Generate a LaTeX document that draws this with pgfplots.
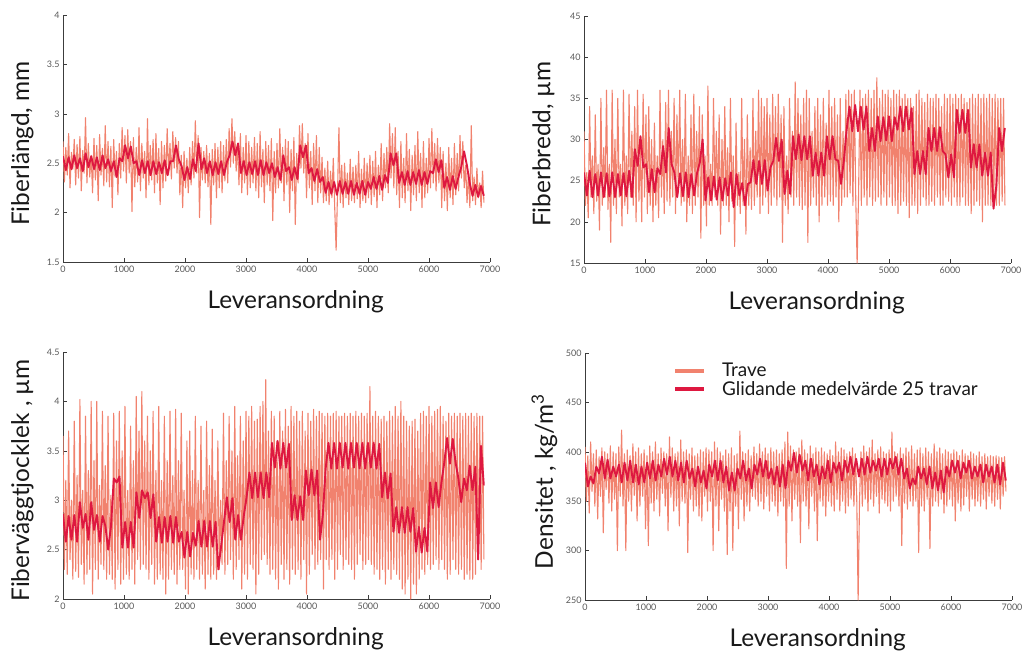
\documentclass[border=0pt]{standalone}
\usepackage{fontspec}
\setmainfont{Lato}
\usepackage{pgfplots}
\usepackage{pgfplotstable}
\pgfplotsset{compat=1.18}
\definecolor{trave}{RGB}{241,130,110}
\definecolor{avgc}{RGB}{222,24,64}
\definecolor{axgray}{RGB}{60,60,60}

% ---------- Fiberlangd ----------
\pgfplotstableread[row sep=\\]{
t\\
2.72\\ 2.31\\ 2.66\\ 2.38\\ 2.80\\ 2.25\\ 2.61\\ 2.44\\ 2.74\\ 2.28\\
2.69\\ 2.35\\ 2.77\\ 2.22\\ 2.63\\ 2.40\\ 2.96\\ 2.30\\ 2.70\\ 2.36\\
2.58\\ 2.20\\ 2.75\\ 2.33\\ 2.68\\ 2.12\\ 2.79\\ 2.38\\ 2.65\\ 2.27\\
2.88\\ 2.31\\ 2.72\\ 2.26\\ 2.67\\ 2.05\\ 2.74\\ 2.36\\ 2.62\\ 2.18\\
2.70\\ 2.35\\ 2.86\\ 2.42\\ 2.78\\ 2.30\\ 2.84\\ 2.40\\ 2.72\\ 2.01\\
2.76\\ 2.26\\ 2.66\\ 2.31\\ 2.86\\ 2.22\\ 2.70\\ 2.35\\ 2.62\\ 2.15\\
2.95\\ 2.28\\ 2.68\\ 2.33\\ 2.74\\ 2.20\\ 2.80\\ 2.30\\ 2.65\\ 2.08\\
2.72\\ 2.25\\ 2.68\\ 2.32\\ 2.85\\ 2.38\\ 2.70\\ 2.34\\ 2.82\\ 2.45\\
2.76\\ 2.40\\ 2.72\\ 2.18\\ 2.58\\ 2.05\\ 2.62\\ 2.25\\ 2.55\\ 2.20\\
2.66\\ 2.28\\ 2.72\\ 2.35\\ 2.93\\ 2.40\\ 2.78\\ 1.95\\ 2.66\\ 2.33\\
2.62\\ 2.30\\ 2.68\\ 2.26\\ 2.60\\ 1.88\\ 2.64\\ 2.28\\ 2.70\\ 2.15\\
2.66\\ 2.25\\ 2.72\\ 2.20\\ 2.68\\ 2.32\\ 2.74\\ 2.30\\ 2.85\\ 2.46\\
2.95\\ 2.50\\ 2.82\\ 2.42\\ 2.70\\ 2.28\\ 2.80\\ 2.20\\ 2.66\\ 2.30\\
2.78\\ 2.18\\ 2.72\\ 2.25\\ 2.66\\ 2.30\\ 2.76\\ 2.22\\ 2.70\\ 2.15\\
2.82\\ 2.26\\ 2.64\\ 2.10\\ 2.72\\ 2.28\\ 2.68\\ 2.22\\ 2.75\\ 1.92\\
2.62\\ 2.20\\ 2.70\\ 2.25\\ 2.85\\ 2.30\\ 2.66\\ 2.12\\ 2.74\\ 2.28\\
2.72\\ 2.00\\ 2.64\\ 2.22\\ 2.76\\ 1.88\\ 2.60\\ 2.30\\ 2.88\\ 2.45\\
2.90\\ 2.40\\ 2.70\\ 2.15\\ 2.80\\ 2.25\\ 2.62\\ 2.08\\ 2.70\\ 2.22\\
2.78\\ 2.10\\ 2.66\\ 2.20\\ 2.56\\ 2.10\\ 2.45\\ 2.12\\ 2.52\\ 2.08\\
2.42\\ 2.15\\ 2.55\\ 2.05\\ 1.62\\ 2.20\\ 2.86\\ 2.10\\ 2.48\\ 2.05\\
2.50\\ 2.15\\ 2.40\\ 2.08\\ 2.54\\ 2.12\\ 2.46\\ 2.10\\ 2.48\\ 2.14\\
2.62\\ 2.05\\ 2.44\\ 2.12\\ 2.55\\ 2.10\\ 2.50\\ 2.15\\ 2.58\\ 2.08\\
2.52\\ 2.16\\ 2.62\\ 2.05\\ 2.48\\ 2.18\\ 2.70\\ 2.12\\ 2.60\\ 2.25\\
2.66\\ 2.20\\ 2.90\\ 2.35\\ 2.80\\ 2.25\\ 2.86\\ 2.18\\ 2.62\\ 2.05\\
2.72\\ 2.15\\ 2.55\\ 2.10\\ 2.80\\ 2.22\\ 2.64\\ 2.02\\ 2.58\\ 2.18\\
2.68\\ 2.12\\ 2.82\\ 2.20\\ 2.60\\ 2.05\\ 2.72\\ 2.15\\ 2.55\\ 2.20\\
2.75\\ 2.25\\ 2.85\\ 2.30\\ 2.70\\ 2.22\\ 2.75\\ 2.30\\ 2.66\\ 2.05\\
2.62\\ 2.12\\ 2.50\\ 2.02\\ 2.66\\ 2.15\\ 2.55\\ 2.08\\ 2.70\\ 2.18\\
2.60\\ 2.22\\ 2.78\\ 2.35\\ 2.72\\ 2.25\\ 2.48\\ 2.10\\ 2.40\\ 2.05\\
2.88\\ 2.12\\ 2.36\\ 2.08\\ 2.45\\ 2.15\\ 2.30\\ 2.05\\ 2.42\\ 2.10\\
}\travA
\pgfplotstableread[row sep=\\]{
a\\
2.57\\ 2.43\\ 2.56\\ 2.44\\ 2.58\\ 2.45\\ 2.55\\ 2.42\\ 2.60\\ 2.46\\
2.57\\ 2.44\\ 2.56\\ 2.43\\ 2.58\\ 2.45\\ 2.54\\ 2.42\\ 2.52\\ 2.36\\
2.55\\ 2.52\\ 2.68\\ 2.55\\ 2.67\\ 2.50\\ 2.52\\ 2.38\\ 2.53\\ 2.40\\
2.52\\ 2.38\\ 2.52\\ 2.39\\ 2.51\\ 2.40\\ 2.53\\ 2.38\\ 2.52\\ 2.52\\
2.68\\ 2.54\\ 2.47\\ 2.33\\ 2.46\\ 2.34\\ 2.54\\ 2.42\\ 2.70\\ 2.44\\
2.55\\ 2.40\\ 2.52\\ 2.38\\ 2.51\\ 2.39\\ 2.52\\ 2.38\\ 2.51\\ 2.58\\
2.72\\ 2.58\\ 2.70\\ 2.40\\ 2.52\\ 2.38\\ 2.51\\ 2.39\\ 2.52\\ 2.38\\
2.53\\ 2.38\\ 2.51\\ 2.40\\ 2.50\\ 2.36\\ 2.46\\ 2.33\\ 2.58\\ 2.42\\
2.46\\ 2.33\\ 2.46\\ 2.34\\ 2.68\\ 2.56\\ 2.68\\ 2.40\\ 2.45\\ 2.32\\
2.44\\ 2.31\\ 2.36\\ 2.20\\ 2.31\\ 2.19\\ 2.31\\ 2.18\\ 2.32\\ 2.19\\
2.31\\ 2.19\\ 2.32\\ 2.18\\ 2.30\\ 2.19\\ 2.32\\ 2.18\\ 2.31\\ 2.24\\
2.36\\ 2.24\\ 2.37\\ 2.23\\ 2.38\\ 2.30\\ 2.60\\ 2.48\\ 2.60\\ 2.30\\
2.41\\ 2.28\\ 2.42\\ 2.28\\ 2.41\\ 2.29\\ 2.43\\ 2.28\\ 2.41\\ 2.29\\
2.42\\ 2.40\\ 2.54\\ 2.41\\ 2.53\\ 2.25\\ 2.36\\ 2.23\\ 2.37\\ 2.24\\
2.36\\ 2.46\\ 2.62\\ 2.48\\ 2.30\\ 2.17\\ 2.28\\ 2.16\\ 2.27\\ 2.17\\
}\avgA

% ---------- Fiberbredd ----------
\pgfplotstableread[row sep=\\]{
t\\
31\\ 22\\ 26\\ 20.5\\ 34\\ 23\\ 28\\ 21\\ 33\\ 22.5\\
27\\ 19\\ 35\\ 22\\ 29\\ 23\\ 36\\ 21.5\\ 27\\ 17.5\\
36\\ 22\\ 30\\ 21\\ 35\\ 23\\ 27\\ 19.5\\ 36\\ 22\\
28\\ 21\\ 35.5\\ 23\\ 31\\ 22\\ 34\\ 20\\ 36\\ 22.5\\
29\\ 20\\ 35.5\\ 23\\ 33\\ 21\\ 34\\ 22\\ 30\\ 20\\
32\\ 22\\ 28\\ 20.5\\ 36\\ 23\\ 30\\ 21\\ 34.5\\ 22.5\\
36\\ 22\\ 31\\ 23\\ 35\\ 21\\ 33\\ 23.5\\ 36\\ 22\\
30\\ 22.5\\ 35.5\\ 20\\ 28\\ 22\\ 33\\ 21\\ 35.5\\ 22\\
31\\ 23\\ 34\\ 18\\ 33\\ 22\\ 28\\ 19.5\\ 36.5\\ 22\\
27\\ 22\\ 35\\ 23\\ 31\\ 22\\ 33\\ 18.5\\ 30\\ 22\\
34\\ 22\\ 29\\ 20\\ 35\\ 22.5\\ 28\\ 17\\ 32\\ 22\\
26\\ 21\\ 35\\ 22\\ 30\\ 18.5\\ 33\\ 22\\ 29\\ 21.5\\
35\\ 22\\ 31\\ 23\\ 36\\ 21\\ 35\\ 22\\ 34\\ 23\\
35\\ 21\\ 33\\ 22\\ 35.5\\ 23\\ 34\\ 22\\ 35.5\\ 23\\
33\\ 17.5\\ 34\\ 22\\ 28\\ 21\\ 35\\ 23\\ 31\\ 22\\
37\\ 23\\ 35\\ 22\\ 33\\ 21.5\\ 35\\ 22\\ 36\\ 17.5\\
35\\ 22\\ 31\\ 23\\ 34\\ 22\\ 35\\ 20\\ 33\\ 22\\
35\\ 23\\ 32\\ 22\\ 36\\ 22.5\\ 34\\ 22\\ 35\\ 23\\
33\\ 20\\ 35\\ 22\\ 31\\ 23\\ 35.5\\ 23\\ 36\\ 23.5\\
35.5\\ 22\\ 36\\ 23\\ 15\\ 23\\ 36\\ 22\\ 35\\ 23\\
35.5\\ 22\\ 36\\ 23\\ 35\\ 22\\ 36\\ 22.5\\ 37.5\\ 23\\
35\\ 22\\ 36\\ 23\\ 35.5\\ 22\\ 36\\ 23\\ 35\\ 22\\
36\\ 22\\ 35.5\\ 21\\ 36\\ 22\\ 35\\ 22.5\\ 35.5\\ 22\\
35\\ 20.5\\ 35\\ 22\\ 34\\ 22\\ 35.5\\ 21\\ 36\\ 22\\
35\\ 23\\ 34.5\\ 22\\ 35.5\\ 22\\ 35\\ 22.5\\ 35\\ 22\\
35.5\\ 23\\ 35\\ 22\\ 34\\ 22\\ 35.5\\ 23\\ 35\\ 22.5\\
35.5\\ 22\\ 35\\ 23\\ 35.5\\ 22\\ 35\\ 22\\ 35.5\\ 23\\
35\\ 22\\ 34.5\\ 22\\ 35\\ 21\\ 35.5\\ 22\\ 35\\ 22.5\\
35.5\\ 22\\ 35\\ 20\\ 35.5\\ 22\\ 35\\ 22\\ 35.5\\ 22\\
35\\ 22\\ 35.5\\ 22\\ 35\\ 22\\ 35\\ 22.5\\ 35\\ 22\\
}\travB
\pgfplotstableread[row sep=\\]{
a\\
26.0\\ 23.2\\ 26.2\\ 23.0\\ 25.8\\ 23.2\\ 26.0\\ 23.0\\ 25.9\\ 23.1\\
26.0\\ 23.0\\ 25.8\\ 23.2\\ 25.9\\ 23.1\\ 26.2\\ 23.0\\ 28.8\\ 26.8\\
30.4\\ 26.6\\ 27.0\\ 23.6\\ 26.4\\ 23.6\\ 26.5\\ 25.8\\ 29.2\\ 26.0\\
31.4\\ 27.0\\ 26.0\\ 23.0\\ 25.9\\ 23.1\\ 26.0\\ 23.0\\ 25.8\\ 23.2\\
25.9\\ 27.2\\ 30.0\\ 22.6\\ 25.4\\ 22.6\\ 25.5\\ 22.7\\ 25.4\\ 22.6\\
25.3\\ 23.2\\ 26.0\\ 21.8\\ 25.8\\ 23.2\\ 24.7\\ 22.0\\ 24.6\\ 24.8\\
27.5\\ 24.6\\ 27.4\\ 24.6\\ 27.5\\ 23.8\\ 26.6\\ 27.4\\ 30.2\\ 27.4\\
30.0\\ 23.4\\ 26.2\\ 23.4\\ 30.4\\ 27.6\\ 30.6\\ 27.5\\ 30.4\\ 27.6\\
30.4\\ 25.6\\ 28.4\\ 25.6\\ 28.4\\ 25.6\\ 30.4\\ 27.6\\ 30.4\\ 27.6\\
27.4\\ 24.6\\ 27.4\\ 31.2\\ 34.0\\ 31.0\\ 34.2\\ 31.0\\ 34.0\\ 31.2\\
34.0\\ 28.6\\ 31.4\\ 28.6\\ 32.8\\ 29.8\\ 32.7\\ 29.9\\ 32.8\\ 29.8\\
32.7\\ 31.2\\ 34.0\\ 31.0\\ 34.0\\ 31.2\\ 33.8\\ 25.8\\ 28.6\\ 25.8\\
28.6\\ 25.8\\ 31.4\\ 28.6\\ 31.4\\ 28.6\\ 31.5\\ 28.6\\ 28.2\\ 25.4\\
28.2\\ 25.4\\ 33.6\\ 30.8\\ 33.6\\ 30.8\\ 33.6\\ 26.6\\ 29.4\\ 26.6\\
29.4\\ 25.6\\ 28.4\\ 25.6\\ 28.4\\ 21.6\\ 24.4\\ 31.4\\ 28.6\\ 31.4\\
}\avgB

% ---------- Fibervaggtjocklek ----------
\pgfplotstableread[row sep=\\]{
t\\
3.65\\ 2.30\\ 3.20\\ 2.25\\ 3.70\\ 2.40\\ 3.00\\ 2.20\\ 3.80\\ 2.28\\
3.25\\ 2.22\\ 4.02\\ 2.35\\ 3.10\\ 2.15\\ 3.85\\ 2.25\\ 3.30\\ 2.30\\
4.00\\ 2.05\\ 3.40\\ 2.30\\ 4.00\\ 2.20\\ 3.15\\ 2.35\\ 3.90\\ 2.30\\
3.35\\ 2.20\\ 3.85\\ 2.25\\ 3.05\\ 2.20\\ 3.88\\ 2.10\\ 3.60\\ 2.30\\
3.90\\ 2.15\\ 3.50\\ 2.20\\ 3.95\\ 2.25\\ 3.10\\ 2.20\\ 3.75\\ 2.30\\
3.40\\ 2.15\\ 4.05\\ 2.40\\ 3.70\\ 2.30\\ 4.10\\ 2.35\\ 3.60\\ 2.30\\
3.85\\ 2.20\\ 3.50\\ 2.35\\ 3.90\\ 2.15\\ 3.30\\ 2.20\\ 3.95\\ 2.25\\
3.20\\ 2.20\\ 3.85\\ 2.05\\ 3.40\\ 2.20\\ 3.90\\ 2.30\\ 3.25\\ 2.25\\
3.92\\ 2.15\\ 3.40\\ 2.30\\ 3.88\\ 2.30\\ 3.10\\ 2.10\\ 3.60\\ 2.05\\
3.70\\ 2.25\\ 3.30\\ 2.20\\ 3.85\\ 2.30\\ 3.20\\ 2.20\\ 3.75\\ 2.25\\
3.10\\ 2.10\\ 3.80\\ 2.25\\ 3.35\\ 2.20\\ 3.72\\ 2.25\\ 3.20\\ 2.20\\
3.60\\ 2.30\\ 3.00\\ 2.35\\ 3.88\\ 2.25\\ 3.40\\ 2.35\\ 3.85\\ 2.40\\
3.50\\ 2.20\\ 3.95\\ 2.30\\ 3.45\\ 2.40\\ 3.85\\ 2.10\\ 3.60\\ 2.25\\
3.90\\ 2.20\\ 3.85\\ 2.35\\ 3.95\\ 2.30\\ 3.80\\ 2.05\\ 3.82\\ 2.25\\
3.95\\ 2.40\\ 4.00\\ 2.45\\ 4.22\\ 2.35\\ 3.70\\ 2.25\\ 3.90\\ 2.30\\
3.85\\ 2.20\\ 3.60\\ 2.10\\ 3.90\\ 2.35\\ 3.70\\ 2.20\\ 3.92\\ 2.30\\
3.75\\ 2.15\\ 3.95\\ 2.30\\ 3.85\\ 2.25\\ 3.90\\ 2.30\\ 3.80\\ 2.20\\
3.90\\ 2.40\\ 3.70\\ 2.05\\ 3.88\\ 2.25\\ 3.80\\ 2.45\\ 3.92\\ 2.30\\
3.85\\ 2.35\\ 3.90\\ 2.40\\ 3.88\\ 2.10\\ 3.85\\ 2.40\\ 3.88\\ 2.30\\
3.85\\ 2.40\\ 3.88\\ 2.20\\ 3.90\\ 2.30\\ 3.85\\ 2.45\\ 3.85\\ 2.30\\
3.88\\ 2.40\\ 3.85\\ 2.35\\ 3.88\\ 2.30\\ 3.85\\ 2.20\\ 3.90\\ 2.35\\
3.85\\ 2.45\\ 3.88\\ 2.30\\ 3.85\\ 2.35\\ 3.88\\ 2.40\\ 4.15\\ 2.35\\
3.85\\ 2.25\\ 3.90\\ 2.30\\ 3.85\\ 2.20\\ 3.82\\ 2.30\\ 3.85\\ 2.15\\
3.80\\ 2.30\\ 3.90\\ 2.20\\ 3.85\\ 2.30\\ 3.95\\ 2.25\\ 3.85\\ 2.20\\
4.00\\ 2.10\\ 3.85\\ 2.05\\ 3.80\\ 2.20\\ 3.75\\ 2.00\\ 3.80\\ 2.15\\
3.82\\ 2.05\\ 3.70\\ 2.20\\ 3.88\\ 2.30\\ 3.90\\ 2.25\\ 3.85\\ 2.35\\
3.95\\ 2.30\\ 3.85\\ 2.35\\ 3.90\\ 2.40\\ 3.92\\ 2.30\\ 3.95\\ 2.40\\
3.85\\ 2.30\\ 3.80\\ 2.20\\ 3.88\\ 2.25\\ 3.85\\ 2.40\\ 3.88\\ 2.30\\
3.85\\ 2.25\\ 3.88\\ 2.30\\ 3.85\\ 2.20\\ 3.88\\ 2.25\\ 3.85\\ 2.20\\
3.88\\ 2.20\\ 3.85\\ 2.25\\ 3.88\\ 2.40\\ 3.85\\ 2.30\\ 3.85\\ 2.40\\
}\travC
\pgfplotstableread[row sep=\\]{
a\\
2.86\\ 2.58\\ 2.84\\ 2.60\\ 2.85\\ 2.58\\ 2.98\\ 2.72\\ 2.86\\ 2.60\\
2.98\\ 2.70\\ 2.85\\ 2.58\\ 2.84\\ 2.74\\ 2.50\\ 2.74\\ 3.22\\ 3.18\\
3.24\\ 2.52\\ 2.78\\ 2.52\\ 2.78\\ 2.52\\ 3.08\\ 2.82\\ 3.10\\ 3.02\\
3.08\\ 2.82\\ 3.06\\ 2.58\\ 2.83\\ 2.57\\ 2.83\\ 2.58\\ 2.84\\ 2.57\\
2.83\\ 2.58\\ 2.68\\ 2.42\\ 2.68\\ 2.43\\ 2.67\\ 2.54\\ 2.79\\ 2.53\\
2.79\\ 2.53\\ 2.79\\ 2.53\\ 2.78\\ 2.30\\ 2.54\\ 2.78\\ 3.03\\ 2.78\\
3.02\\ 2.60\\ 2.85\\ 2.60\\ 2.84\\ 3.03\\ 3.28\\ 3.02\\ 3.28\\ 3.03\\
3.28\\ 3.02\\ 3.28\\ 3.03\\ 3.58\\ 3.33\\ 3.60\\ 3.32\\ 3.58\\ 3.33\\
3.57\\ 2.80\\ 3.05\\ 2.80\\ 3.04\\ 2.80\\ 3.30\\ 3.05\\ 3.31\\ 3.05\\
3.30\\ 2.60\\ 2.85\\ 3.32\\ 3.58\\ 3.32\\ 3.58\\ 3.32\\ 3.58\\ 3.33\\
3.58\\ 3.32\\ 3.58\\ 3.33\\ 3.58\\ 3.32\\ 3.58\\ 3.32\\ 3.58\\ 3.33\\
3.58\\ 3.32\\ 3.57\\ 3.03\\ 3.28\\ 3.02\\ 3.27\\ 2.68\\ 2.93\\ 2.67\\
2.93\\ 2.67\\ 2.93\\ 2.68\\ 2.92\\ 2.48\\ 2.73\\ 2.47\\ 2.72\\ 2.48\\
3.18\\ 2.92\\ 3.18\\ 2.93\\ 3.18\\ 3.38\\ 3.63\\ 3.37\\ 3.62\\ 3.38\\
3.22\\ 2.98\\ 3.22\\ 3.10\\ 3.35\\ 3.10\\ 3.34\\ 2.40\\ 3.55\\ 3.15\\
}\avgC

% ---------- Densitet ----------
\pgfplotstableread[row sep=\\]{
t\\
405\\ 350\\ 396\\ 338\\ 410\\ 360\\ 398\\ 345\\ 402\\ 332\\
395\\ 355\\ 404\\ 318\\ 400\\ 362\\ 398\\ 348\\ 406\\ 340\\
400\\ 352\\ 398\\ 300\\ 405\\ 355\\ 422\\ 345\\ 398\\ 300\\
402\\ 350\\ 396\\ 340\\ 408\\ 356\\ 400\\ 330\\ 404\\ 345\\
398\\ 355\\ 402\\ 322\\ 396\\ 305\\ 406\\ 348\\ 400\\ 340\\
410\\ 352\\ 398\\ 335\\ 404\\ 358\\ 400\\ 345\\ 398\\ 320\\
415\\ 354\\ 404\\ 340\\ 398\\ 345\\ 400\\ 325\\ 412\\ 350\\
400\\ 348\\ 402\\ 298\\ 398\\ 352\\ 404\\ 340\\ 396\\ 345\\
398\\ 335\\ 402\\ 330\\ 400\\ 355\\ 404\\ 340\\ 402\\ 350\\
400\\ 300\\ 410\\ 345\\ 404\\ 320\\ 400\\ 352\\ 396\\ 340\\
402\\ 296\\ 398\\ 340\\ 404\\ 300\\ 396\\ 345\\ 398\\ 322\\
421\\ 352\\ 400\\ 330\\ 398\\ 345\\ 402\\ 340\\ 396\\ 355\\
405\\ 352\\ 398\\ 345\\ 408\\ 350\\ 400\\ 342\\ 404\\ 355\\
398\\ 340\\ 404\\ 350\\ 400\\ 345\\ 402\\ 335\\ 398\\ 350\\
402\\ 345\\ 410\\ 282\\ 420\\ 345\\ 406\\ 330\\ 402\\ 352\\
400\\ 345\\ 404\\ 308\\ 412\\ 350\\ 402\\ 345\\ 398\\ 322\\
406\\ 355\\ 398\\ 340\\ 404\\ 310\\ 400\\ 350\\ 404\\ 345\\
400\\ 335\\ 398\\ 350\\ 402\\ 345\\ 396\\ 340\\ 410\\ 352\\
400\\ 340\\ 404\\ 350\\ 402\\ 338\\ 398\\ 345\\ 400\\ 352\\
404\\ 345\\ 398\\ 355\\ 250\\ 350\\ 400\\ 345\\ 406\\ 352\\
400\\ 340\\ 404\\ 352\\ 412\\ 345\\ 398\\ 355\\ 402\\ 338\\
405\\ 352\\ 400\\ 348\\ 398\\ 345\\ 402\\ 340\\ 420\\ 350\\
400\\ 355\\ 398\\ 345\\ 404\\ 305\\ 398\\ 348\\ 404\\ 342\\
400\\ 350\\ 406\\ 345\\ 398\\ 350\\ 402\\ 298\\ 404\\ 345\\
398\\ 340\\ 404\\ 352\\ 400\\ 302\\ 398\\ 345\\ 408\\ 350\\
400\\ 345\\ 404\\ 352\\ 398\\ 338\\ 402\\ 345\\ 400\\ 352\\
398\\ 345\\ 402\\ 330\\ 400\\ 348\\ 396\\ 340\\ 402\\ 346\\
398\\ 355\\ 396\\ 340\\ 400\\ 352\\ 398\\ 345\\ 396\\ 350\\
400\\ 345\\ 395\\ 352\\ 398\\ 342\\ 395\\ 355\\ 396\\ 348\\
395\\ 345\\ 396\\ 352\\ 395\\ 342\\ 394\\ 355\\ 395\\ 360\\
}\travD
\pgfplotstableread[row sep=\\]{
a\\
389\\ 365\\ 375\\ 368\\ 385\\ 378\\ 395\\ 373\\ 392\\ 373\\
385\\ 375\\ 387\\ 369\\ 389\\ 371\\ 391\\ 369\\ 387\\ 367\\
385\\ 369\\ 389\\ 373\\ 391\\ 371\\ 387\\ 375\\ 393\\ 377\\
395\\ 375\\ 391\\ 371\\ 389\\ 369\\ 391\\ 373\\ 383\\ 365\\
385\\ 369\\ 381\\ 363\\ 387\\ 375\\ 391\\ 371\\ 391\\ 369\\
385\\ 361\\ 379\\ 361\\ 383\\ 373\\ 391\\ 371\\ 383\\ 363\\
387\\ 377\\ 393\\ 375\\ 391\\ 373\\ 383\\ 367\\ 385\\ 365\\
387\\ 363\\ 391\\ 381\\ 399\\ 379\\ 397\\ 381\\ 391\\ 371\\
393\\ 375\\ 387\\ 367\\ 385\\ 373\\ 391\\ 369\\ 389\\ 379\\
389\\ 371\\ 391\\ 379\\ 395\\ 377\\ 393\\ 375\\ 393\\ 377\\
395\\ 379\\ 391\\ 381\\ 393\\ 375\\ 393\\ 377\\ 393\\ 383\\
395\\ 377\\ 393\\ 373\\ 383\\ 363\\ 373\\ 367\\ 385\\ 373\\
383\\ 367\\ 385\\ 363\\ 379\\ 361\\ 381\\ 359\\ 385\\ 375\\
391\\ 379\\ 391\\ 373\\ 389\\ 379\\ 391\\ 373\\ 385\\ 375\\
387\\ 369\\ 387\\ 375\\ 385\\ 369\\ 387\\ 367\\ 389\\ 371\\
}\avgD

\pgfplotsset{
  panel/.style={
    scale only axis, width=427bp, height=247bp,
    xmin=0, xmax=7000,
    axis x line*=bottom, axis y line*=left,
    axis line style={axgray, line width=0.9pt, -},
    xtick={0,1000,...,7000},
    tick align=inside, major tick length=4bp,
    tick style={axgray, line width=0.6pt},
    ticklabel style={font=\fontsize{9}{10}\selectfont, text=black!65},
    /pgf/number format/assume math mode=true,
    /pgf/number format/1000 sep={},
    xlabel={Leveransordning},
    label style={font=\fontsize{24.5}{28}\selectfont, text=black!90},
    xlabel style={at={(axis description cs:0.545,-0.16)}, anchor=center},
    ylabel style={at={(axis description cs:-0.095,0.48)}, anchor=center},
    clip=true,
  },
  trv/.style={trave, line width=1.1bp, line join=round},
  mav/.style={avgc, line width=1.9bp, line join=round},
}

\begin{document}
\begin{tikzpicture}
\path[use as bounding box] (0,0) rectangle (1027bp,-657bp);

\begin{axis}[panel, at={(63bp,-15bp)}, anchor=north west,
  ymin=1.5, ymax=4, ytick={1.5,2,...,4}, ylabel={Fiberlängd, mm}]
\addplot[trv] table[x expr=\coordindex*23.08, y=t] {\travA};
\addplot[mav] table[x expr=\coordindex*46.3, y=a] {\avgA};
\end{axis}

\begin{axis}[panel, at={(584bp,-16bp)}, anchor=north west,
  ymin=15, ymax=45, ytick={15,20,...,45}, ylabel={Fiberbredd, µm}]
\addplot[trv] table[x expr=\coordindex*23.08, y=t] {\travB};
\addplot[mav] table[x expr=\coordindex*46.3, y=a] {\avgB};
\end{axis}

\begin{axis}[panel, at={(63bp,-352bp)}, anchor=north west,
  ymin=2, ymax=4.5, ytick={2,2.5,...,4.5}, ylabel={Fiberväggtjocklek , µm}]
\addplot[trv] table[x expr=\coordindex*23.08, y=t] {\travC};
\addplot[mav] table[x expr=\coordindex*46.3, y=a] {\avgC};
\end{axis}

\begin{axis}[panel, at={(585bp,-353bp)}, anchor=north west,
  ymin=250, ymax=500, ytick={250,300,...,500}, ylabel={Densitet , kg/m\textsuperscript{3}},
  legend style={draw=none, fill=none, at={(axis description cs:0.2,0.975)}, anchor=north west,
    font=\fontsize{19}{22}\selectfont, text=black!90, row sep=-1bp,
    /tikz/every odd column/.append style={column sep=14bp}},
  legend cell align=left,
  legend image code/.code={\draw[#1, line width=3.5bp] (0bp,0bp) -- (29bp,0bp);}]
\addplot[trv] table[x expr=\coordindex*23.08, y=t] {\travD};
\addlegendentry{Trave}
\addplot[mav] table[x expr=\coordindex*46.3, y=a] {\avgD};
\addlegendentry{Glidande medelvärde 25 travar}
\end{axis}
\end{tikzpicture}
\end{document}
